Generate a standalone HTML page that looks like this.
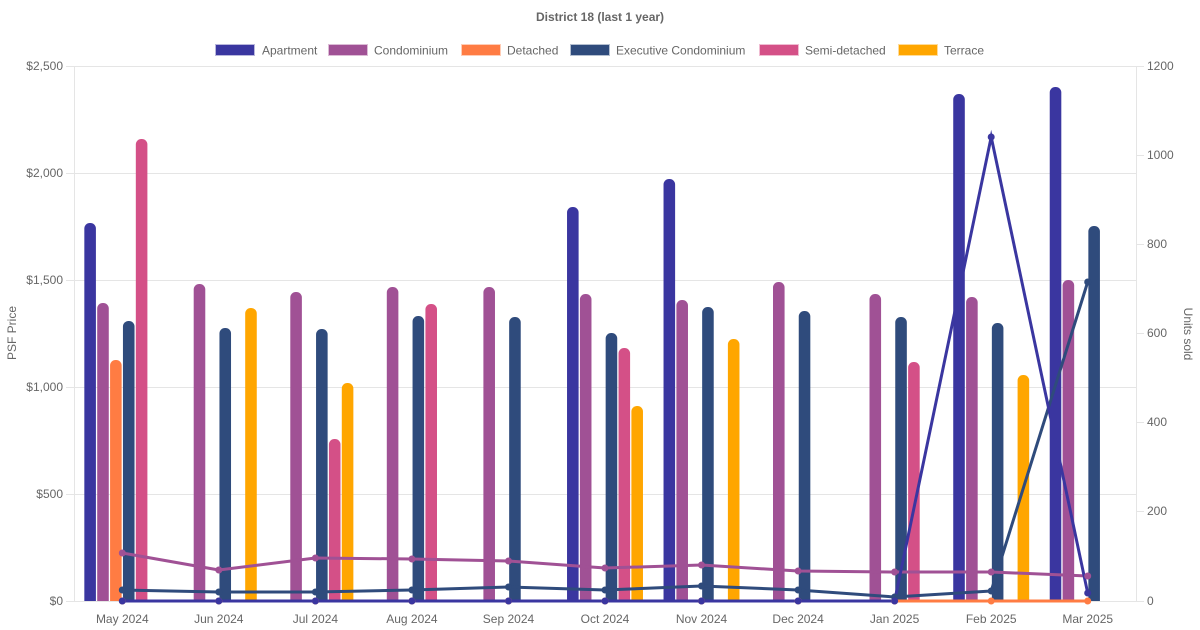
<!DOCTYPE html>
<html>
<head>
<meta charset="utf-8">
<style>
html,body{margin:0;padding:0;background:#fff;}
svg{display:block;}
text{font-family:"Liberation Sans",Arial,sans-serif;font-size:12px;fill:#666;}
</style>
</head>
<body>
<svg width="1200" height="630" viewBox="0 0 1200 630" xmlns="http://www.w3.org/2000/svg">
<defs>
<clipPath id="pa"><rect x="74" y="0" width="1062" height="601"/></clipPath>
</defs>
<!-- title -->
<text x="600" y="21" text-anchor="middle" style="font-weight:bold">District 18 (last 1 year)</text>
<!-- legend -->
<g>
<rect x="215.5" y="44.5" width="39" height="11" fill="#3a36a0" stroke="#b9b7dc" stroke-width="1"/>
<text x="262" y="54.5">Apartment</text>
<rect x="328.5" y="44.5" width="39" height="11" fill="#a05195" stroke="#dcbcd6" stroke-width="1"/>
<text x="374" y="54.5">Condominium</text>
<rect x="461.5" y="44.5" width="39" height="11" fill="#ff7c43" stroke="#ffcdb6" stroke-width="1"/>
<text x="507" y="54.5">Detached</text>
<rect x="570.5" y="44.5" width="39" height="11" fill="#2f4b7c" stroke="#b4bfd0" stroke-width="1"/>
<text x="616" y="54.5">Executive Condominium</text>
<rect x="759.5" y="44.5" width="39" height="11" fill="#d45087" stroke="#f0bcd2" stroke-width="1"/>
<text x="805" y="54.5">Semi-detached</text>
<rect x="898.5" y="44.5" width="39" height="11" fill="#ffa600" stroke="#ffdc99" stroke-width="1"/>
<text x="944" y="54.5">Terrace</text>
</g>
<!-- grid -->
<g stroke="#e5e5e5" stroke-width="1">
<line x1="66" y1="66.5" x2="1136" y2="66.5"/>
<line x1="66" y1="173.5" x2="1136" y2="173.5"/>
<line x1="66" y1="280.5" x2="1136" y2="280.5"/>
<line x1="66" y1="387.5" x2="1136" y2="387.5"/>
<line x1="66" y1="494.5" x2="1136" y2="494.5"/>
<line x1="66" y1="601.5" x2="1144" y2="601.5"/>
<line x1="74.5" y1="66" x2="74.5" y2="601"/>
<line x1="1136.5" y1="66" x2="1136.5" y2="601"/>
<line x1="1136" y1="66.5" x2="1144" y2="66.5"/>
<line x1="1136" y1="155.5" x2="1144" y2="155.5"/>
<line x1="1136" y1="244.5" x2="1144" y2="244.5"/>
<line x1="1136" y1="333.5" x2="1144" y2="333.5"/>
<line x1="1136" y1="422.5" x2="1144" y2="422.5"/>
<line x1="1136" y1="511.5" x2="1144" y2="511.5"/>
</g>
<!-- left ticks -->
<g text-anchor="end">
<text x="63" y="70">$2,500</text>
<text x="63" y="177">$2,000</text>
<text x="63" y="284">$1,500</text>
<text x="63" y="391">$1,000</text>
<text x="63" y="498">$500</text>
<text x="63" y="605">$0</text>
</g>
<!-- right ticks -->
<g>
<text x="1147" y="70">1200</text>
<text x="1147" y="159">1000</text>
<text x="1147" y="248">800</text>
<text x="1147" y="337">600</text>
<text x="1147" y="426">400</text>
<text x="1147" y="515">200</text>
<text x="1147" y="605">0</text>
</g>
<!-- x labels -->
<g text-anchor="middle">
<text x="122.3" y="623">May 2024</text>
<text x="218.8" y="623">Jun 2024</text>
<text x="315.4" y="623">Jul 2024</text>
<text x="411.9" y="623">Aug 2024</text>
<text x="508.5" y="623">Sep 2024</text>
<text x="605" y="623">Oct 2024</text>
<text x="701.5" y="623">Nov 2024</text>
<text x="798.1" y="623">Dec 2024</text>
<text x="894.6" y="623">Jan 2025</text>
<text x="991.2" y="623">Feb 2025</text>
<text x="1087.7" y="623">Mar 2025</text>
</g>
<!-- axis titles -->
<text transform="translate(16,333) rotate(-90)" text-anchor="middle">PSF Price</text>
<text transform="translate(1184,334) rotate(90)" text-anchor="middle">Units sold</text>
<!-- bars -->
<g clip-path="url(#pa)">
<g fill="#3a36a0">
<rect x="84.33" y="223" width="11.58" height="400" rx="5.5"/>
<rect x="567.03" y="207" width="11.58" height="400" rx="5.5"/>
<rect x="663.53" y="179" width="11.58" height="440" rx="5.5"/>
<rect x="953.23" y="94" width="11.58" height="540" rx="5.5"/>
<rect x="1049.73" y="87" width="11.58" height="540" rx="5.5"/>
</g>
<g fill="#a05195">
<rect x="97.2" y="303" width="11.58" height="320" rx="5.5"/>
<rect x="193.7" y="284" width="11.58" height="340" rx="5.5"/>
<rect x="290.3" y="292" width="11.58" height="340" rx="5.5"/>
<rect x="386.8" y="287" width="11.58" height="340" rx="5.5"/>
<rect x="483.4" y="287" width="11.58" height="340" rx="5.5"/>
<rect x="579.9" y="294" width="11.58" height="340" rx="5.5"/>
<rect x="676.4" y="300" width="11.58" height="340" rx="5.5"/>
<rect x="773.0" y="282" width="11.58" height="340" rx="5.5"/>
<rect x="869.5" y="294" width="11.58" height="340" rx="5.5"/>
<rect x="966.1" y="297" width="11.58" height="340" rx="5.5"/>
<rect x="1062.6" y="280" width="11.58" height="340" rx="5.5"/>
</g>
<g fill="#ff7c43">
<rect x="110.07" y="360" width="11.58" height="260" rx="5.5"/>
</g>
<g fill="#2f4b7c">
<rect x="122.95" y="321" width="11.58" height="300" rx="5.5"/>
<rect x="219.45" y="328" width="11.58" height="300" rx="5.5"/>
<rect x="316.05" y="329" width="11.58" height="300" rx="5.5"/>
<rect x="412.55" y="316" width="11.58" height="300" rx="5.5"/>
<rect x="509.15" y="317" width="11.58" height="300" rx="5.5"/>
<rect x="605.65" y="333" width="11.58" height="300" rx="5.5"/>
<rect x="702.15" y="307" width="11.58" height="300" rx="5.5"/>
<rect x="798.75" y="311" width="11.58" height="300" rx="5.5"/>
<rect x="895.25" y="317" width="11.58" height="300" rx="5.5"/>
<rect x="991.85" y="323" width="11.58" height="300" rx="5.5"/>
<rect x="1088.35" y="226" width="11.58" height="400" rx="5.5"/>
</g>
<g fill="#d45087">
<rect x="135.82" y="139" width="11.58" height="480" rx="5.5"/>
<rect x="328.92" y="439" width="11.58" height="200" rx="5.5"/>
<rect x="425.42" y="304" width="11.58" height="320" rx="5.5"/>
<rect x="618.52" y="348" width="11.58" height="280" rx="5.5"/>
<rect x="908.12" y="362" width="11.58" height="280" rx="5.5"/>
</g>
<g fill="#ffa600">
<rect x="245.19" y="308" width="11.58" height="320" rx="5.5"/>
<rect x="341.79" y="383" width="11.58" height="240" rx="5.5"/>
<rect x="631.39" y="406" width="11.58" height="220" rx="5.5"/>
<rect x="727.89" y="339" width="11.58" height="280" rx="5.5"/>
<rect x="1017.59" y="375" width="11.58" height="240" rx="5.5"/>
</g>
</g>
<!-- lines -->
<g fill="none" stroke-width="3" stroke-linejoin="round">
<polyline stroke="#ff7c43" points="122.3,601 218.8,601 315.4,601 411.9,601 508.5,601 605,601 701.5,601 798.1,601 894.6,601 991.2,601 1087.7,601"/>
<polyline stroke="#2f4b7c" points="122.3,590 218.8,592 315.4,592 411.9,590 508.5,587 605,590 701.5,586 798.1,590 894.6,597 991.2,591 1087.7,282"/>
<polyline stroke="#a05195" points="122.3,553 218.8,570 315.4,558 411.9,559 508.5,561 605,568 701.5,565 798.1,571 894.6,572 991.2,572 1087.7,576"/>
<polyline stroke="#3a36a0" stroke-linejoin="miter" stroke-miterlimit="10" points="122.3,601 218.8,601 315.4,601 411.9,601 508.5,601 605,601 701.5,601 798.1,601 894.6,601 991.2,137 1087.7,593"/>
</g>
<g fill="#ff7c43">
<circle cx="122.3" cy="601" r="3.5"/><circle cx="218.8" cy="601" r="3.5"/><circle cx="315.4" cy="601" r="3.5"/><circle cx="411.9" cy="601" r="3.5"/><circle cx="508.5" cy="601" r="3.5"/><circle cx="605" cy="601" r="3.5"/><circle cx="701.5" cy="601" r="3.5"/><circle cx="798.1" cy="601" r="3.5"/><circle cx="894.6" cy="601" r="3.5"/><circle cx="991.2" cy="601" r="3.5"/><circle cx="1087.7" cy="601" r="3.5"/>
</g>
<g fill="#2f4b7c">
<circle cx="122.3" cy="590" r="3.5"/><circle cx="218.8" cy="592" r="3.5"/><circle cx="315.4" cy="592" r="3.5"/><circle cx="411.9" cy="590" r="3.5"/><circle cx="508.5" cy="587" r="3.5"/><circle cx="605" cy="590" r="3.5"/><circle cx="701.5" cy="586" r="3.5"/><circle cx="798.1" cy="590" r="3.5"/><circle cx="894.6" cy="597" r="3.5"/><circle cx="991.2" cy="591" r="3.5"/><circle cx="1087.7" cy="282" r="3.5"/>
</g>
<g fill="#a05195">
<circle cx="122.3" cy="553" r="3.5"/><circle cx="218.8" cy="570" r="3.5"/><circle cx="315.4" cy="558" r="3.5"/><circle cx="411.9" cy="559" r="3.5"/><circle cx="508.5" cy="561" r="3.5"/><circle cx="605" cy="568" r="3.5"/><circle cx="701.5" cy="565" r="3.5"/><circle cx="798.1" cy="571" r="3.5"/><circle cx="894.6" cy="572" r="3.5"/><circle cx="991.2" cy="572" r="3.5"/><circle cx="1087.7" cy="576" r="3.5"/>
</g>
<g fill="#3a36a0">
<circle cx="122.3" cy="601" r="3.5"/><circle cx="218.8" cy="601" r="3.5"/><circle cx="315.4" cy="601" r="3.5"/><circle cx="411.9" cy="601" r="3.5"/><circle cx="508.5" cy="601" r="3.5"/><circle cx="605" cy="601" r="3.5"/><circle cx="701.5" cy="601" r="3.5"/><circle cx="798.1" cy="601" r="3.5"/><circle cx="894.6" cy="601" r="3.5"/><circle cx="991.2" cy="137" r="3.5"/><circle cx="1087.7" cy="593" r="3.5"/>
</g>
</svg>
</body>
</html>
